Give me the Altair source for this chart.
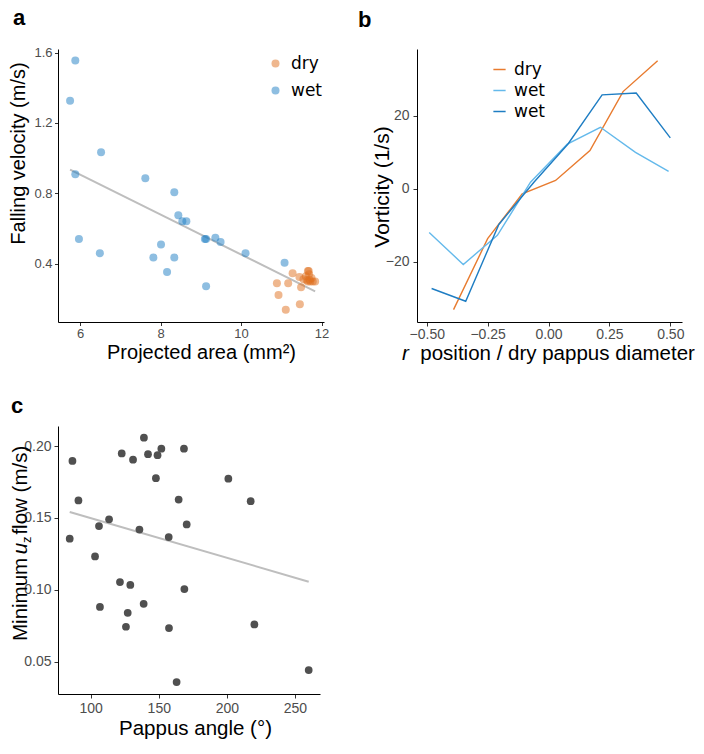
import altair as alt
import pandas as pd

# ---------------- Panel a data ----------------
wet_area = [5.88, 5.75, 6.52, 5.88, 7.62, 8.34, 8.44, 8.54, 8.64, 5.97, 9.10, 9.13,
            9.36, 9.49, 8.01, 6.49, 10.11, 7.82, 8.34, 8.16, 11.08, 9.13]
wet_vel = [1.554, 1.326, 1.034, 0.909, 0.886, 0.806, 0.676, 0.642, 0.642, 0.541, 0.541, 0.541,
           0.549, 0.524, 0.510, 0.461, 0.461, 0.436, 0.436, 0.354, 0.407, 0.273]
dry_area = [10.89, 10.93, 11.11, 11.17, 11.28, 11.45, 11.49, 11.46, 11.66, 11.68,
            11.69, 11.55, 11.63, 11.72, 11.78, 11.61, 11.84, 11.66, 11.75, 11.70]
dry_vel = [0.290, 0.224, 0.140, 0.290, 0.347, 0.326, 0.268, 0.171, 0.360, 0.360,
           0.341, 0.313, 0.307, 0.300, 0.300, 0.330, 0.300, 0.300, 0.320, 0.310]
cond_names = ["dry", "wet"]

# ---------------- Panel b data ----------------
r_dry = [-0.39, -0.25, -0.108, 0.029, 0.17, 0.306, 0.448]
v_dry = [-33.2, -13.7, -1.4, 2.3, 10.5, 26.7, 35.2]
r_wet1 = [-0.49, -0.35, -0.21, -0.074, 0.077, 0.213, 0.357, 0.493]
v_wet1 = [-12.0, -20.8, -12.8, 1.8, 12.3, 16.9, 10.0, 4.8]
r_wet2 = [-0.48, -0.34, -0.204, -0.06, 0.08, 0.22, 0.36, 0.50]
v_wet2 = [-27.4, -30.9, -9.8, 1.8, 12.3, 25.8, 26.3, 14.0]
series_b = ["dry", "wet1", "wet2"]

# ---------------- Panel c data ----------------
angle = [84.6, 86.6, 91.0, 103.2, 106.1, 113.5, 122.8, 131.1, 135.8, 139.1, 142.1, 147.9,
         149.1, 151.9, 157.3, 164.6, 168.5, 170.5, 201.1, 217.5,
         106.8, 121.5, 125.9, 127.2, 129.1, 138.9, 157.5, 163.1, 168.8, 220.2, 260.1]
min_uz = [0.1356, 0.1897, 0.1622, 0.1232, 0.1444, 0.1491, 0.1949, 0.1906, 0.1419, 0.2059, 0.1944, 0.1777,
          0.1937, 0.1982, 0.1367, 0.1628, 0.1982, 0.1455, 0.1773, 0.1617,
          0.0881, 0.1054, 0.0743, 0.0840, 0.1034, 0.0903, 0.0734, 0.0358, 0.1005, 0.0759, 0.0442]

DRY = "#E0701E"
WET = "#1E7DC3"
LINE_COLORS = ["#E87B2F", "#64B9EB", "#1E7DC3"]
GREY = "#BEBEBE"
TF = "Liberation Sans"

W_A, H_A = 266, 273
W_B, H_B = 265, 273
W_C, H_C = 262, 268


def ax(**kw):
    base = dict(grid=False, domainColor="#000000", domainWidth=1, tickColor="#333333",
                tickWidth=1, labelColor="#4D4D4D", labelFont=TF, titleFont=TF,
                titleColor="#000000", titleFontWeight="normal")
    base.update(kw)
    return alt.Axis(**base)


def letter(t, dx, offset, dy=0):
    return alt.TitleParams(t, anchor="start", frame="group", dx=dx, dy=dy, offset=offset,
                           fontSize=22, fontWeight="bold", font=TF, color="#000000",
                           baseline="alphabetic")


# ---------------- Panel a ----------------
dfa = pd.DataFrame({
    "area": dry_area + wet_area,
    "vel": dry_vel + wet_vel,
    "cond": ["dry"] * len(dry_area) + ["wet"] * len(wet_area),
})
xa = alt.X("area:Q", scale=alt.Scale(domain=[5.45, 12.06], nice=False, zero=False),
           axis=ax(values=[6, 8, 10, 12], labelFontSize=13, tickSize=3.5, labelPadding=1.5,
                   title="Projected area (mm²)", titleFontSize=20, titleX=143, titleY=36,
                   titleAlign="center", titleBaseline="alphabetic"))
ya = alt.Y("vel:Q", scale=alt.Scale(domain=[0.07, 1.62], nice=False, zero=False),
           axis=ax(values=[0.4, 0.8, 1.2, 1.6], format=".1f", labelFontSize=13, tickSize=3.5,
                   labelPadding=2.5, title="Falling velocity (m/s)", titleFontSize=20,
                   titleX=-33.5, titleY=104, titleAlign="center", titleBaseline="alphabetic"))
pts_a = alt.Chart(dfa).mark_circle(size=64, opacity=0.5).encode(
    x=xa, y=ya,
    color=alt.Color("cond:N", scale=alt.Scale(domain=cond_names, range=[DRY, WET]),
                    legend=alt.Legend(title=None, orient="none", legendX=209, legendY=6,
                                      symbolType="circle", symbolSize=64, symbolOpacity=0.5,
                                      symbolStrokeWidth=0, labelFont="DejaVu Sans",
                                      labelFontSize=17, labelColor="#000000", rowPadding=9,
                                      labelOffset=7, padding=0)),
)
reg_a = alt.Chart(dfa).transform_regression("area", "vel").mark_line(
    color=GREY, strokeWidth=2).encode(x="area:Q", y="vel:Q")
chart_a = alt.layer(reg_a, pts_a).properties(width=W_A, height=H_A, title=letter("a", -45, 0))

# ---------------- Panel b ----------------
dfb = pd.DataFrame({
    "r": r_dry + r_wet1 + r_wet2,
    "v": v_dry + v_wet1 + v_wet2,
    "s": ["dry"] * len(r_dry) + ["wet1"] * len(r_wet1) + ["wet2"] * len(r_wet2),
})
lines_b = alt.Chart(dfb).mark_line(strokeWidth=1.4).encode(
    x=alt.X("r:Q", scale=alt.Scale(domain=[-0.54, 0.548], nice=False, zero=False),
            axis=ax(values=[-0.5, -0.25, 0, 0.25, 0.5], format=".2f", labelFontSize=14,
                    tickSize=4, labelPadding=1.5, title=None)),
    y=alt.Y("v:Q", scale=alt.Scale(domain=[-36.6, 38.4], nice=False, zero=False),
            axis=ax(values=[-20, 0, 20], labelFontSize=14, tickSize=4, labelPadding=4,
                    title="Vorticity (1/s)", titleFontSize=21, titleX=-28.4, titleY=137.5,
                    titleAlign="center", titleBaseline="alphabetic")),
    color=alt.Color("s:N", scale=alt.Scale(domain=series_b, range=LINE_COLORS),
                    legend=alt.Legend(title=None, orient="none", legendX=74, legendY=12,
                                      symbolType="stroke", symbolSize=150, symbolStrokeWidth=1.5,
                                      labelFont="DejaVu Sans", labelFontSize=17,
                                      labelColor="#000000", rowPadding=3, labelOffset=6,
                                      padding=0,
                                      labelExpr="datum.label == 'dry' ? 'dry' : 'wet'")),
    detail="s:N",
)
xt_r = alt.Chart(pd.DataFrame({"t": ["r"]})).mark_text(
    font=TF, fontSize=20.5, fontStyle="italic", align="left", baseline="alphabetic",
    color="#000000").encode(text="t:N", x=alt.value(-15), y=alt.value(H_B + 38))
xt_rest = alt.Chart(pd.DataFrame({"t": ["position / dry pappus diameter"]})).mark_text(
    font=TF, fontSize=20.5, align="left", baseline="alphabetic",
    color="#000000").encode(text="t:N", x=alt.value(3.3), y=alt.value(H_B + 38))
chart_b = alt.layer(lines_b, xt_r, xt_rest).properties(
    width=W_B, height=H_B, title=letter("b", -59, 0))

# ---------------- Panel c ----------------
dfc = pd.DataFrame({"angle": angle, "uz": min_uz})
pts_c = alt.Chart(dfc).mark_circle(size=60, opacity=1, color="#505050").encode(
    x=alt.X("angle:Q", scale=alt.Scale(domain=[76, 268.4], nice=False, zero=False),
            axis=ax(values=[100, 150, 200, 250], labelFontSize=14, tickSize=4, labelPadding=3,
                    title="Pappus angle (°)", titleFontSize=20.5, titleX=137, titleY=40,
                    titleAlign="center", titleBaseline="alphabetic")),
    y=alt.Y("uz:Q", scale=alt.Scale(domain=[0.0275, 0.214], nice=False, zero=False),
            axis=ax(values=[0.05, 0.10, 0.15, 0.20], format=".2f", labelFontSize=14,
                    tickSize=4, labelPadding=3, title=None)),
)
reg_c = alt.Chart(dfc).transform_regression("angle", "uz").mark_line(
    color=GREY, strokeWidth=2).encode(x="angle:Q", y="uz:Q")


def ytext(t, y, x, size=20.5, style="normal"):
    return alt.Chart(pd.DataFrame({"t": [t]})).mark_text(
        font=TF, fontSize=size, fontStyle=style, angle=270, align="left",
        baseline="alphabetic", color="#000000").encode(
        text="t:N", x=alt.value(x), y=alt.value(y))


yt1 = ytext("Minimum", 215.0, -31)
yt2 = ytext("u", 128.3, -31, style="italic")
yt3 = ytext("z", 117.0, -27, size=13)
yt4 = ytext("flow (m/s)", 108.6, -31)
chart_c = alt.layer(reg_c, pts_c, yt1, yt2, yt3, yt4).properties(
    width=W_C, height=H_C, title=letter("c", -47, 0, dy=9))

chart = alt.concat(chart_a, chart_b, chart_c, columns=2, spacing={"row": 104, "column": 93},
                   bounds="flush").resolve_scale(color="independent").resolve_legend(
    color="independent").properties(
    autosize=alt.AutoSizeParams(type="none"),
    padding={"left": 50, "top": 41, "right": 638, "bottom": 692},
).configure_view(stroke=None).configure_axis(grid=False)

chart.save("out.html", embed_options={"renderer": "svg", "actions": False})
